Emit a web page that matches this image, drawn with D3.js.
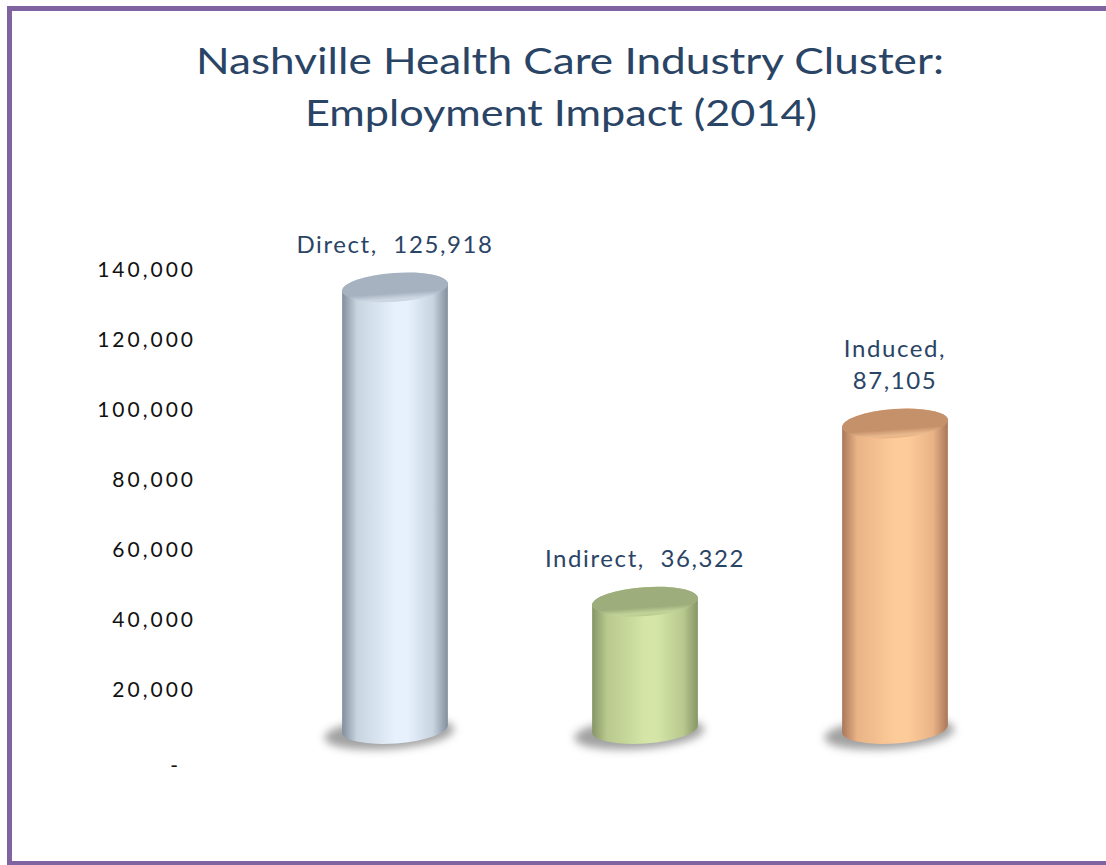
<!DOCTYPE html>
<html lang="en">
<head>
  <meta charset="utf-8" />
  <title>Nashville Health Care Industry Cluster</title>
  <script src="https://d3js.org/d3.v7.min.js"></script>
  <style>
    body { margin: 0; background: #fff; }
    svg { display: block; }
    .title { font-family: Lato, sans-serif; font-size: 36px; fill: #2a4466; }
    .label { font-family: Lato, sans-serif; font-size: 24px; letter-spacing: 1.6px; fill: #2a4466; }
    .axis text { font-family: Lato, sans-serif; font-size: 21px; letter-spacing: 3px; fill: #111; }
  </style>
</head>
<body>
  <svg width="1106" height="865"></svg>
  <script>
    // data
    const categories = ["Direct", "Indirect", "Induced"];
    const values = [125918, 36322, 87105];
    const tickValues = [0, 20000, 40000, 60000, 80000, 100000, 120000, 140000];
    const titleLines = ["Nashville Health Care Industry Cluster:", "Employment Impact (2014)"];

    // colours per bar: edge, mid, highlight, top
    const palette = [
      { edge: "#838e9c", mid: "#c9d4e1", light: "#e6f1fd", top: "#a7b2c1", topLight: "#cdd7e3" },
      { edge: "#869566", mid: "#b9c98e", light: "#d4e5a7", top: "#9dad7b", topLight: "#c3d49a" },
      { edge: "#a9775a", mid: "#e9b386", light: "#fdcb9a", top: "#c5916a", topLight: "#eab98d" }
    ];

    const svg = d3.select("svg");
    const defs = svg.append("defs");

    // frame
    svg.append("rect")
      .attr("x", 9.5).attr("y", 8.5)
      .attr("width", 1110).attr("height", 855)
      .attr("fill", "none")
      .attr("stroke", "#8064a2")
      .attr("stroke-width", 5);

    // title
    svg.append("text").attr("class", "title")
      .attr("x", 570).attr("y", 74).attr("text-anchor", "middle")
      .attr("textLength", 748).attr("lengthAdjust", "spacingAndGlyphs")
      .text(titleLines[0]);
    svg.append("text").attr("class", "title")
      .attr("x", 561).attr("y", 126).attr("text-anchor", "middle")
      .attr("textLength", 512).attr("lengthAdjust", "spacingAndGlyphs")
      .text(titleLines[1]);

    // scales: axis plane and the (perspective shifted) bar plane
    const y = d3.scaleLinear().domain([0, 140000]).range([760, 270]);
    const yBar = d3.scaleLinear().domain([0, 140000]).range([729, 238]);
    const x = d3.scaleBand().domain(categories).range([270, 1020])
      .paddingInner(0.576).paddingOuter(0.288);

    const axis = d3.axisLeft(y)
      .tickValues(tickValues)
      .tickSize(0)
      .tickPadding(0)
      .tickFormat(d => d === 0 ? "-" : d3.format(",")(d));

    const gAxis = svg.append("g")
      .attr("class", "axis")
      .attr("transform", "translate(196,0)")
      .call(axis);
    gAxis.select(".domain").remove();
    gAxis.selectAll(".tick").filter(d => d === 0).select("text")
      .attr("dx", -15).attr("dy", "0.6em");

    // shadow blur
    defs.append("filter").attr("id", "blur")
      .attr("x", "-30%").attr("y", "-100%").attr("width", "160%").attr("height", "300%")
      .append("feGaussianBlur").attr("stdDeviation", 4);

    const rx = x.bandwidth() / 2;
    const ry = 14.5;
    const tilt = -4;
    const ca = Math.cos(tilt * Math.PI / 180), sa = Math.sin(tilt * Math.PI / 180);

    categories.forEach((c, i) => {
      const p = palette[i];
      const body = defs.append("linearGradient").attr("id", "body" + i)
        .attr("x1", "0%").attr("x2", "100%").attr("y1", "0%").attr("y2", "0%");
      [[0, p.edge], [0.14, p.mid], [0.5, p.light], [0.62, p.light], [0.86, p.mid], [1, p.edge]]
        .forEach(([o, col]) => body.append("stop").attr("offset", o).attr("stop-color", col));
      const top = defs.append("linearGradient").attr("id", "top" + i)
        .attr("x1", "0%").attr("x2", "0%").attr("y1", "0%").attr("y2", "100%");
      [[0, p.top], [0.7, p.top], [0.9, p.topLight], [1, p.mid]]
        .forEach(([o, col]) => top.append("stop").attr("offset", o).attr("stop-color", col));
    });

    const bars = svg.append("g")
      .selectAll("g")
      .data(categories.map((c, i) => ({ cat: c, value: values[i], i })))
      .join("g");

    // floor shadow
    bars.append("ellipse")
      .attr("cx", d => x(d.cat) + rx - 6)
      .attr("cy", yBar(0) + 4)
      .attr("rx", rx + 12)
      .attr("ry", ry + 1)
      .attr("transform", d => `rotate(${tilt},${x(d.cat) + rx},${yBar(0)})`)
      .attr("fill", "#444")
      .attr("opacity", 0.5)
      .attr("filter", "url(#blur)");

    // cylinder body
    bars.append("path")
      .attr("fill", d => `url(#body${d.i})`)
      .attr("d", d => {
        const cx = x(d.cat) + rx, ty = yBar(d.value), by = yBar(0);
        const lx = cx - rx * ca, rxp = cx + rx * ca;
        const dl = -rx * sa, dr = rx * sa;
        return `M${lx},${ty + dl} L${lx},${by + dl} ` +
          `A${rx},${ry} ${tilt} 0 0 ${rxp},${by + dr} ` +
          `L${rxp},${ty + dr} ` +
          `A${rx},${ry} ${tilt} 0 0 ${lx},${ty + dl} Z`;
      });

    // cylinder top
    bars.append("ellipse")
      .attr("cx", d => x(d.cat) + rx)
      .attr("cy", d => yBar(d.value))
      .attr("rx", rx)
      .attr("ry", ry)
      .attr("transform", d => `rotate(${tilt},${x(d.cat) + rx},${yBar(d.value)})`)
      .attr("fill", d => `url(#top${d.i})`);

    // data labels
    const labelLines = d => d.cat === "Induced"
      ? [d.cat + ",", d3.format(",")(d.value)]
      : [d.cat + ",\u00a0\u00a0" + d3.format(",")(d.value)];

    bars.each(function (d) {
      const lines = labelLines(d);
      const base = yBar(d.value) - ry - 20 - (lines.length - 1) * 32;
      lines.forEach((t, k) => {
        d3.select(this).append("text")
          .attr("class", "label")
          .attr("x", x(d.cat) + rx)
          .attr("y", base + k * 32)
          .attr("text-anchor", "middle")
          .text(t);
      });
    });
  </script>
</body>
</html>
